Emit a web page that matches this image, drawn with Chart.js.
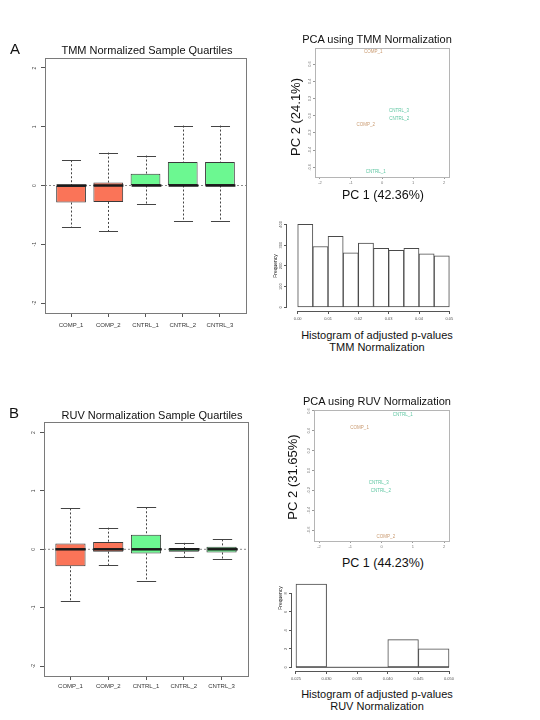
<!DOCTYPE html>
<html><head><meta charset="utf-8">
<script src="https://cdn.jsdelivr.net/npm/chart.js@4.4.1/dist/chart.umd.min.js"></script>
<style>
html,body{margin:0;padding:0;background:#fff;}
body{width:540px;height:720px;position:relative;overflow:hidden;font-family:"Liberation Sans",Arial,sans-serif;}
canvas{position:absolute;}
.t{position:absolute;white-space:nowrap;color:#111;line-height:1;transform:translate(-50%,-50%);z-index:2;}
.r{transform:translate(-50%,-50%) rotate(-90deg);}
</style></head><body>
<div class="t" style="left:15px;top:48px;font-size:15px">A</div>
<div class="t" style="left:147px;top:50px;font-size:11px">TMM Normalized Sample Quartiles</div>
<div class="t" style="left:377px;top:39px;font-size:11px">PCA using TMM Normalization</div>
<div class="t r" style="left:295px;top:117px;font-size:13px">PC 2 (24.1%)</div>
<div class="t" style="left:383px;top:195px;font-size:12.5px">PC 1 (42.36%)</div>
<div class="t r" style="left:275px;top:266px;font-size:5px">Frequency</div>
<div class="t" style="left:377px;top:335px;font-size:11px">Histogram of adjusted p-values</div>
<div class="t" style="left:377px;top:347px;font-size:11px">TMM Normalization</div>

<div class="t" style="left:14px;top:412px;font-size:15px">B</div>
<div class="t" style="left:152px;top:415px;font-size:11px">RUV Normalization Sample Quartiles</div>
<div class="t" style="left:377px;top:401px;font-size:11px">PCA using RUV Normalization</div>
<div class="t r" style="left:292px;top:477px;font-size:13px">PC 2 (31.65%)</div>
<div class="t" style="left:383px;top:563px;font-size:12.5px">PC 1 (44.23%)</div>
<div class="t r" style="left:280px;top:598px;font-size:5px">Frequency</div>
<div class="t" style="left:377px;top:694px;font-size:11px">Histogram of adjusted p-values</div>
<div class="t" style="left:377px;top:706px;font-size:11px">RUV Normalization</div>
<script>
// ---------- data ----------
const boxCats = ['COMP_1','COMP_2','CNTRL_1','CNTRL_2','CNTRL_3'];
const boxColors = ['#FA7458','#FA7458','#6CF891','#6CF891','#6CF891'];
const boxTicksY = [-2,-1,0,1,2];

const tmmLow  = [-0.71,-0.78,-0.31,-0.61,-0.61];
const tmmQ1   = [-0.29,-0.28, 0.00, 0.00, 0.00];
const tmmMed  = [ 0.00, 0.00, 0.00, 0.00, 0.00];
const tmmQ3   = [ 0.00, 0.05, 0.20, 0.40, 0.40];
const tmmHigh = [ 0.43, 0.56, 0.51, 1.02, 1.02];

const ruvLow  = [-0.88,-0.27,-0.54,-0.14,-0.17];
const ruvQ1   = [-0.29,-0.04,-0.07,-0.04,-0.055];
const ruvMed  = [ 0.00, 0.00, 0.00, 0.00, 0.00];
const ruvQ3   = [ 0.10, 0.125,0.25, 0.02, 0.045];
const ruvHigh = [ 0.70, 0.37, 0.72, 0.11, 0.17];

const pcaLabels = ['COMP_1','COMP_2','CNTRL_1','CNTRL_2','CNTRL_3'];
const pcaTmmX = [-0.28,-0.52,-0.20, 0.56, 0.55];
const pcaTmmY = [ 0.74,-0.10,-0.65,-0.03, 0.06];
const pcaRuvX = [-0.70, 0.14, 0.68,-0.02,-0.09];
const pcaRuvY = [ 0.43,-0.67, 0.56,-0.20,-0.12];
const pcaTicksX = [-2,-1,0,1,2];
const pcaTicksY = [-0.6,-0.4,-0.2,0,0.2,0.4,0.6];

const tmmBinMid = [0.0025,0.0075,0.0125,0.0175,0.0225,0.0275,0.0325,0.0375,0.0425,0.0475];
const tmmCounts = [400,293,342,262,310,284,274,284,258,248];
const tmmHistTicksX = [0,0.01,0.02,0.03,0.04,0.05];
const tmmHistTicksY = [0,100,200,300,400];

const ruvBinMid = [0.0275,0.0325,0.0375,0.0425,0.0475];
const ruvCounts = [9,0,0,3,2];
const ruvHistTicksX = [0.025,0.030,0.035,0.040,0.045,0.050];
const ruvHistTicksY = [0,2,4,6,8];

// ---------- helpers ----------
const FAM = 'Liberation Sans';
function mk(cx,cy,cw,ch,area,cfg){
  const c=document.createElement('canvas'); c.width=cw; c.height=ch;
  c.style.cssText=`left:${cx}px;top:${cy}px;width:${cw}px;height:${ch}px`;
  document.body.appendChild(c);
  cfg.options.layout={padding:{top:area[1]-cy,right:cx+cw-area[2],left:0,bottom:0}};
  cfg.options.scales.x.afterFit=s=>{s.height=cy+ch-area[3];};
  cfg.options.scales.y.afterFit=s=>{s.width=area[0]-cx;};
  cfg.options.responsive=false; cfg.options.animation=false; cfg.options.devicePixelRatio=1;
  cfg.options.plugins={legend:{display:false},tooltip:{enabled:false}};
  return new Chart(c,cfg);
}
function setTicks(arr){return s=>{s.ticks=arr.map(v=>({value:v}));};}
function frame(color){return {id:'frame',afterDraw(ch){const a=ch.chartArea,ctx=ch.ctx;ctx.save();ctx.strokeStyle=color;ctx.lineWidth=1;
  ctx.strokeRect(Math.round(a.left)+0.5,Math.round(a.top)+0.5,Math.round(a.right-a.left),Math.round(a.bottom-a.top));ctx.restore();}};}
function yRot(fmt,off,size,color){return {id:'yrot',afterDraw(ch){const s=ch.scales.y,ctx=ch.ctx;ctx.save();
  ctx.font=`${size}px "${FAM}"`;ctx.fillStyle=color;ctx.textAlign='center';ctx.textBaseline='middle';
  s.ticks.forEach(t=>{const y=s.getPixelForValue(t.value);ctx.save();ctx.translate(ch.chartArea.left-off,y);ctx.rotate(-Math.PI/2);ctx.fillText(fmt(t.value),0,0);ctx.restore();});
  ctx.restore();}};}
function boxPlugin(lo,med,q1,q3,hi){return {id:'whisk',afterDatasetsDraw(ch){
  const xs=ch.scales.x,ys=ch.scales.y,ctx=ch.ctx,bars=ch.getDatasetMeta(0).data;ctx.save();
  bars.forEach((b,i)=>{const xp=Math.round(xs.getPixelForValue(i+1))+0.5,w=b.width;
    ctx.strokeStyle='#444';ctx.lineWidth=1;ctx.setLineDash([2,2]);ctx.beginPath();
    ctx.moveTo(xp,ys.getPixelForValue(hi[i]));ctx.lineTo(xp,ys.getPixelForValue(q3[i]));
    ctx.moveTo(xp,ys.getPixelForValue(q1[i]));ctx.lineTo(xp,ys.getPixelForValue(lo[i]));ctx.stroke();
    ctx.setLineDash([]);ctx.beginPath();const cw=w*0.32;
    [hi[i],lo[i]].forEach(v=>{const y=Math.round(ys.getPixelForValue(v))+0.5;ctx.moveTo(xp-cw,y);ctx.lineTo(xp+cw,y);});ctx.stroke();
    ctx.strokeStyle='#1a1a1a';ctx.lineWidth=2.5;ctx.beginPath();const ym=ys.getPixelForValue(med[i]);
    ctx.moveTo(xp-w/2,ym);ctx.lineTo(xp+w/2,ym);ctx.stroke();});
  ctx.restore();}};}
function pcaText(){return {id:'pcatext',afterDatasetsDraw(ch){const ctx=ch.ctx,pts=ch.getDatasetMeta(0).data;ctx.save();
  ctx.font=`4.5px "${FAM}"`;ctx.textAlign='center';ctx.textBaseline='middle';
  pts.forEach((p,i)=>{ctx.fillStyle=pcaLabels[i].startsWith('COMP')?'#c99a70':'#5fc6a2';ctx.fillText(pcaLabels[i],p.x,p.y);});ctx.restore();}};}
function rAxes(tx,ty){return {id:'raxes',afterDraw(ch){const a=ch.chartArea,xs=ch.scales.x,ys=ch.scales.y,ctx=ch.ctx;ctx.save();
  ctx.strokeStyle='#555';ctx.lineWidth=1;ctx.beginPath();const lx=Math.round(a.left)-0.5;
  ctx.moveTo(lx,ys.getPixelForValue(ty[0]));ctx.lineTo(lx,ys.getPixelForValue(ty[ty.length-1]));
  const by=Math.round(a.bottom)+0.5;ctx.moveTo(xs.getPixelForValue(tx[0]),by);ctx.lineTo(xs.getPixelForValue(tx[tx.length-1]),by);
  ctx.stroke();ctx.restore();}};}

function boxChart(cx,cy,cw,ch,area,ymin,ymax,lo,q1,med,q3,hi,labPad){
  const data=boxCats.map((c,i)=>({x:i+1,y:[q1[i],q3[i]]}));
  return mk(cx,cy,cw,ch,area,{type:'bar',
    data:{datasets:[
      {type:'bar',data,backgroundColor:boxColors,borderColor:'#3a3a3a',borderWidth:1,borderSkipped:false,barPercentage:0.8,categoryPercentage:1,order:0},
      {type:'line',data:[{x:0.3,y:0},{x:5.7,y:0}],borderColor:'#8a8a8a',borderWidth:1,borderDash:[2,2],pointRadius:0,order:1}]},
    options:{scales:{
      x:{type:'linear',min:0.3,max:5.7,offset:false,afterBuildTicks:setTicks(boxCats.map((c,i)=>i+1)),
         ticks:{autoSkip:false,maxRotation:0,minRotation:0,padding:labPad,color:'#333',font:{family:FAM,size:6},callback:v=>boxCats[v-1]},
         grid:{offset:false,drawOnChartArea:false,drawTicks:true,tickLength:4,color:'#555'},border:{display:false}},
      y:{type:'linear',min:ymin,max:ymax,afterBuildTicks:setTicks(boxTicksY),ticks:{display:false},
         grid:{drawOnChartArea:false,drawTicks:true,tickLength:4,color:'#555'},border:{display:false}}}},
    plugins:[boxPlugin(lo,med,q1,q3,hi),frame('#7a7a7a'),yRot(v=>String(v),10,5,'#444')]});
}
function pcaChart(cx,cy,cw,ch,area,ymin,ymax,xv,yv){
  return mk(cx,cy,cw,ch,area,{type:'scatter',
    data:{datasets:[{data:pcaLabels.map((l,i)=>({x:xv[i],y:yv[i]})),pointRadius:0}]},
    options:{scales:{
      x:{type:'linear',min:-2.16,max:2.16,afterBuildTicks:setTicks(pcaTicksX),
         ticks:{autoSkip:false,maxRotation:0,padding:1,color:'#777',font:{family:FAM,size:4},callback:v=>String(v)},
         grid:{drawOnChartArea:false,drawTicks:true,tickLength:2,color:'#999'},border:{display:false}},
      y:{type:'linear',min:ymin,max:ymax,afterBuildTicks:setTicks(pcaTicksY),ticks:{display:false},
         grid:{drawOnChartArea:false,drawTicks:true,tickLength:2,color:'#999'},border:{display:false}}}},
    plugins:[frame('#b5b5b5'),pcaText(),yRot(v=>v.toFixed(1),5,4,'#777')]});
}
function histChart(cx,cy,cw,ch,area,xmin,xmax,ymin,ymax,mids,counts,tx,ty,fmtX,zero){
  const ds=[{type:'bar',data:mids.map((m,i)=>({x:m,y:counts[i]})),backgroundColor:'#ffffff',borderColor:'#4a4a4a',borderWidth:1,borderSkipped:false,barPercentage:1,categoryPercentage:1,order:0}];
  if(zero) ds.push({type:'line',data:zero,borderColor:'#4a4a4a',borderWidth:1,pointRadius:0,order:1});
  return mk(cx,cy,cw,ch,area,{type:'bar',data:{datasets:ds},
    options:{scales:{
      x:{type:'linear',min:xmin,max:xmax,offset:false,afterBuildTicks:setTicks(tx),
         ticks:{autoSkip:false,maxRotation:0,padding:2,color:'#555',font:{family:FAM,size:4},callback:fmtX},
         grid:{offset:false,drawOnChartArea:false,drawTicks:true,tickLength:3,color:'#555'},border:{display:false}},
      y:{type:'linear',min:ymin,max:ymax,afterBuildTicks:setTicks(ty),ticks:{display:false},
         grid:{drawOnChartArea:false,drawTicks:true,tickLength:3,color:'#555'},border:{display:false}}}},
    plugins:[rAxes(tx,ty),yRot(v=>String(v),6,4,'#555')]});
}

// ---------- charts ----------
boxChart(0,50,262,290,[45,58,246,313],-2.17,2.17,tmmLow,tmmQ1,tmmMed,tmmQ3,tmmHigh,5);
boxChart(0,410,262,290,[44,422,248,676],-2.17,2.18,ruvLow,ruvQ1,ruvMed,ruvQ3,ruvHigh,3);
pcaChart(300,40,165,150,[315,48,449,177],-0.712,0.786,pcaTmmX,pcaTmmY);
pcaChart(300,402,165,150,[314,410,449,541],-0.71,0.61,pcaRuvX,pcaRuvY);
histChart(270,215,200,112,[287,221,456,311],-0.00353,0.0522,-17.8,415.9,tmmBinMid,tmmCounts,tmmHistTicksX,tmmHistTicksY,v=>v.toFixed(2),null);
histChart(275,575,195,112,[292,580,456,671],0.02435,0.05114,-0.4,9.44,ruvBinMid,ruvCounts,ruvHistTicksX,ruvHistTicksY,v=>v.toFixed(3),[{x:0.025,y:0},{x:0.05,y:0}]);
</script></body></html>
